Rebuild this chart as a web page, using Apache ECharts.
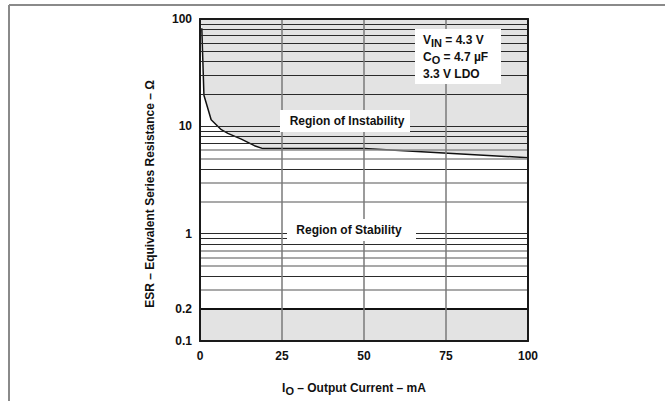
<!DOCTYPE html>
<html>
<head>
<meta charset="utf-8">
<script src="https://cdn.jsdelivr.net/npm/echarts@6/dist/echarts.min.js"></script>
<style>
html, body { margin: 0; padding: 0; background: #fff; }
#chart { width: 665px; height: 401px; }
</style>
</head>
<body>
<div id="chart"></div>
<script>
// stability boundary
var currentMA = [0.55, 1.2, 3.4, 6.5, 8.5, 12.6, 16.6, 19.2, 50, 100];
var esrOhm    = [82, 19.5, 11.5, 9.3, 8.6, 7.6, 6.6, 6.2, 6.2, 5.1];

var xTicks = [0, 25, 50, 75, 100];
var yTicks = [0.1, 1, 10, 100];
var minEsr = 0.2;

// horizontal grid lines (log paper)
var gridDark  = [100, 90, 80, 70, 60, 50, 40, 30, 20, 10, 9, 8, 7, 4, 1, 0.9, 0.8, 0.4];
var gridLight = [6, 5, 3, 2, 0.7, 0.6, 0.5, 0.3];

var font = '"Liberation Sans", Arial, Helvetica, sans-serif';
var xMin = xTicks[0], xMax = xTicks[xTicks.length - 1];
var yMin = yTicks[0], yMax = yTicks[yTicks.length - 1];
var curveData = currentMA.map(function (x, i) { return [x, esrOhm[i]]; });

var gridLines = gridDark.map(function (v) {
    return { yAxis: v, lineStyle: { color: '#2a2a2a', width: 1, type: 'solid' } };
}).concat(gridLight.map(function (v) {
    return { yAxis: v, lineStyle: { color: '#8c8c8c', width: 1.5, type: 'solid' } };
}));
gridLines.push({
    yAxis: minEsr,
    lineStyle: { color: '#111', width: 2, type: 'solid' },
    label: {
        show: true, position: 'start', distance: 8, formatter: String(minEsr),
        color: '#111', fontSize: 12, fontWeight: 'bold', fontFamily: font
    }
});

var chart = echarts.init(document.getElementById('chart'), null, { renderer: 'svg' });
var option = {
    animation: false,
    textStyle: { fontFamily: font },
    grid: { left: 200, right: 137, top: 19, bottom: 53 },
    xAxis: [{
        type: 'value', min: xMin, max: xMax, interval: 25, z: 10,
        axisLine: { show: true, onZero: false, lineStyle: { color: '#1a1a1a', width: 2 } },
        axisTick: { show: false },
        splitLine: { show: true, lineStyle: { color: '#7a7a7a', width: 1.5 } },
        axisLabel: { margin: 9, color: '#111', fontSize: 12, fontWeight: 'bold', fontFamily: font },
        name: '{m|I}{s|O}{m| \u2013 Output Current \u2013 mA}',
        nameLocation: 'middle', nameGap: 38,
        nameTextStyle: {
            padding: [0, 20, 0, 0],
            rich: {
                m: { fontSize: 12, fontWeight: 'bold', color: '#111', fontFamily: font },
                s: { fontSize: 11, fontWeight: 'bold', color: '#111', fontFamily: font, padding: [6, 0, 0, 0] }
            }
        }
    }, {
        type: 'value', position: 'top', min: xMin, max: xMax, z: 10,
        axisLine: { show: true, onZero: false, lineStyle: { color: '#1a1a1a', width: 2 } },
        axisTick: { show: false }, axisLabel: { show: false }, splitLine: { show: false }
    }],
    yAxis: [{
        type: 'log', logBase: 10, min: yMin, max: yMax, z: 10,
        axisLine: { show: true, onZero: false, lineStyle: { color: '#1a1a1a', width: 2 } },
        axisTick: { show: false },
        splitLine: { show: false },
        axisLabel: { margin: 8, color: '#111', fontSize: 12, fontWeight: 'bold', fontFamily: font },
        name: 'ESR \u2013 Equivalent Series Resistance \u2013 \u03a9',
        nameLocation: 'middle', nameGap: 44, nameRotate: 90,
        nameTextStyle: { fontSize: 12, fontWeight: 'bold', color: '#111', fontFamily: font, padding: [0, 28, 0, 0] }
    }, {
        type: 'log', logBase: 10, position: 'right', min: yMin, max: yMax, z: 10,
        axisLine: { show: true, onZero: false, lineStyle: { color: '#1a1a1a', width: 2 } },
        axisTick: { show: false }, axisLabel: { show: false }, splitLine: { show: false }
    }],
    series: [{
        // region of instability, above the boundary
        type: 'custom', z: 1, silent: true,
        data: [[xMin, yMax]],
        renderItem: function (params, api) {
            var pts = [api.coord([xMin, yMax])];
            curveData.forEach(function (d) { pts.push(api.coord(d)); });
            pts.push(api.coord([xMax, yMax]));
            return { type: 'polygon', shape: { points: pts }, style: { fill: '#e3e3e3' } };
        }
    }, {
        type: 'line', z: 2, silent: true,
        data: curveData,
        symbol: 'none',
        lineStyle: { color: '#111', width: 1.5 },
        markArea: {
            silent: true,
            itemStyle: { color: '#e3e3e3' },
            data: [[{ xAxis: xMin, yAxis: yMin }, { xAxis: xMax, yAxis: minEsr }]]
        },
        markLine: {
            silent: true, symbol: 'none', animation: false,
            label: { show: false },
            data: gridLines
        }
    }],
    graphic: [
        { type: 'line', z: 100, shape: { x1: 9, y1: 5, x2: 665, y2: 5 }, style: { stroke: '#8a8a8a', lineWidth: 2 } },
        { type: 'line', z: 100, shape: { x1: 9, y1: 5, x2: 9, y2: 401 }, style: { stroke: '#8a8a8a', lineWidth: 2 } },
        { type: 'rect', z: 100, shape: { x: 280, y: 110, width: 130, height: 22 }, style: { fill: '#fff' } },
        { type: 'text', z: 101, x: 347, y: 121, style: { text: 'Region of Instability', font: 'bold 12px ' + font, fill: '#111', align: 'center', verticalAlign: 'middle' } },
        { type: 'rect', z: 100, shape: { x: 287, y: 219, width: 129, height: 22 }, style: { fill: '#fff' } },
        { type: 'text', z: 101, x: 349, y: 230, style: { text: 'Region of Stability', font: 'bold 12px ' + font, fill: '#111', align: 'center', verticalAlign: 'middle' } },
        { type: 'rect', z: 100, shape: { x: 415, y: 29, width: 86, height: 55 }, style: { fill: '#fff' } },
        {
            type: 'text', z: 101, x: 423, y: 40,
            style: {
                text: '{m|V}{s|IN}{m| = 4.3 V}', verticalAlign: 'middle',
                rich: {
                    m: { font: 'bold 12px ' + font, fill: '#111' },
                    s: { font: 'bold 11px ' + font, fill: '#111', padding: [6, 0, 0, 0] }
                }
            }
        },
        {
            type: 'text', z: 101, x: 423, y: 57,
            style: {
                text: '{m|C}{s|O}{m| = 4.7 \u00b5F}', verticalAlign: 'middle',
                rich: {
                    m: { font: 'bold 12px ' + font, fill: '#111' },
                    s: { font: 'bold 11px ' + font, fill: '#111', padding: [6, 0, 0, 0] }
                }
            }
        },
        { type: 'text', z: 101, x: 423, y: 74, style: { text: '3.3 V LDO', font: 'bold 12px ' + font, fill: '#111', verticalAlign: 'middle' } }
    ]
};
chart.setOption(option);
</script>
</body>
</html>
